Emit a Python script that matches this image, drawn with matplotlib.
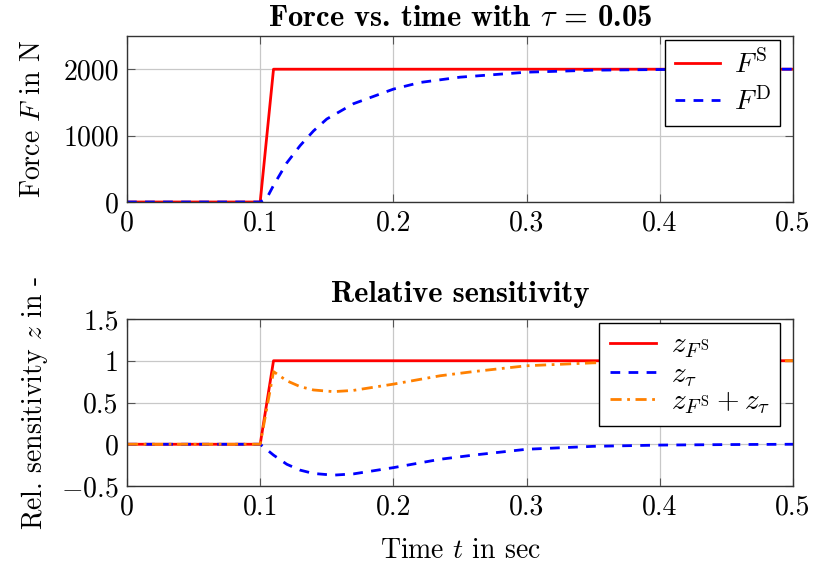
#Program to plot force and relative sensitivity over time.
import matplotlib
matplotlib.use("Agg")
import matplotlib.pyplot as plt

#Time points for the force curves.
t_force = [0.0, 0.1, 0.11, 0.5]
force_static = [0, 0, 2000, 2000]

#Time points for the dynamic force.
t_dyn = [0.0, 0.1, 0.105, 0.11, 0.12, 0.13, 0.14, 0.15, 0.17, 0.2,
         0.22, 0.25, 0.3, 0.35, 0.4, 0.45, 0.5]
force_dyn = [0, 0, 60, 250, 590, 850, 1070, 1250, 1480, 1700,
             1800, 1880, 1955, 1985, 1995, 2000, 2000]

#Relative sensitivities.
t_sens = [0.0, 0.1, 0.11, 0.12, 0.13, 0.14, 0.155, 0.17, 0.2, 0.235,
          0.26, 0.3, 0.35, 0.4, 0.45, 0.5]
z_fs = [0, 0, 1, 1, 1, 1, 1, 1, 1, 1, 1, 1, 1, 1, 1, 1]
z_tau = [0, 0, -0.13, -0.24, -0.31, -0.35, -0.37, -0.355, -0.28, -0.18,
         -0.13, -0.06, -0.025, -0.01, -0.004, 0.0]
z_sum = [a + b for a, b in zip(z_fs, z_tau)]

FS = 20

def style_axes(ax):
    """Give the axes a pgfplots-like look."""
    ax.grid(True, color="#c8c8c8", linewidth=0.9)
    ax.set_axisbelow(True)
    ax.tick_params(direction="in", length=6, color="#555555", labelsize=FS, pad=6,
                   top=True, right=True)
    for spine in ax.spines.values():
        spine.set_color("#333333")
        spine.set_linewidth(1.0)

def add_legend(ax, labelspacing, fontsize):
    """Square black-framed legend in the upper right corner."""
    leg = ax.legend(loc="upper right", bbox_to_anchor=(1 - 13 / 666, 1 - 4 / 166),
                    borderaxespad=0, fontsize=fontsize, frameon=True, fancybox=False,
                    handlelength=1.6, handletextpad=0.5, labelspacing=labelspacing,
                    borderpad=0.35)
    leg.get_frame().set_edgecolor("black")
    leg.get_frame().set_linewidth(1.0)
    leg.get_frame().set_alpha(1)

def main():
    """Mainline logic for the two plots."""
    plt.rcParams["font.family"] = "cmr10"
    plt.rcParams["mathtext.fontset"] = "cm"
    plt.rcParams["axes.formatter.use_mathtext"] = True

    fig = plt.figure(figsize=(8.13, 5.63), dpi=100)
    ax1 = fig.add_axes([127 / 813, 1 - 202 / 563, 666 / 813, 166 / 563])
    ax2 = fig.add_axes([127 / 813, 1 - 486 / 563, 666 / 813, 167 / 563])

    #Upper plot: force vs. time.
    ax1.plot(t_force, force_static, color="red", linewidth=2.0, label=r"$F^{\mathrm{S}}$")
    ax1.plot(t_dyn, force_dyn, color="blue", linewidth=2.0, linestyle=(0, (3.5, 3)),
             label=r"$F^{\mathrm{D}}$")
    ax1.set_xlim(0, 0.5)
    ax1.set_ylim(0, 2500)
    ax1.set_xticks([0, 0.1, 0.2, 0.3, 0.4, 0.5])
    ax1.set_xticklabels(["0", "0.1", "0.2", "0.3", "0.4", "0.5"])
    ax1.set_yticks([0, 1000, 2000])
    ax1.set_yticklabels(["0", "1000", "2000"])
    ax1.set_ylabel(r"Force $F$ in N", fontsize=FS, labelpad=12)
    ax1.set_title(r"Force vs. time with $\tau$ = 0.05", fontsize=22,
                  fontfamily="cmb10", pad=7)
    style_axes(ax1)
    add_legend(ax1, 0.3, FS)

    #Lower plot: relative sensitivity.
    ax2.plot(t_sens, z_fs, color="red", linewidth=2.0, label=r"$z_{F^{\mathrm{S}}}$")
    ax2.plot(t_sens, z_tau, color="blue", linewidth=2.0, linestyle=(0, (3.5, 3)),
             label=r"$z_{\tau}$")
    ax2.plot(t_sens, z_sum, color="#ff8000", linewidth=2.0,
             linestyle=(0, (4, 2, 1, 2)), label=r"$z_{F^{\mathrm{S}}} + z_{\tau}$")
    ax2.set_xlim(0, 0.5)
    ax2.set_ylim(-0.5, 1.5)
    ax2.set_xticks([0, 0.1, 0.2, 0.3, 0.4, 0.5])
    ax2.set_xticklabels(["0", "0.1", "0.2", "0.3", "0.4", "0.5"])
    ax2.set_yticks([-0.5, 0, 0.5, 1, 1.5])
    ax2.set_yticklabels([r"$-0.5$", "0", "0.5", "1", "1.5"])
    ax2.set_xlabel(r"Time $t$ in sec", fontsize=FS, labelpad=12)
    ax2.set_ylabel(r"Rel. sensitivity $z$ in -", fontsize=FS, labelpad=8)
    ax2.set_title("Relative sensitivity", fontsize=22, fontfamily="cmb10", pad=12)
    style_axes(ax2)
    add_legend(ax2, 0.0, 21)

    fig.align_ylabels([ax1, ax2])
    fig.savefig("out.png", dpi=100)

if __name__ == '__main__':
    main()
